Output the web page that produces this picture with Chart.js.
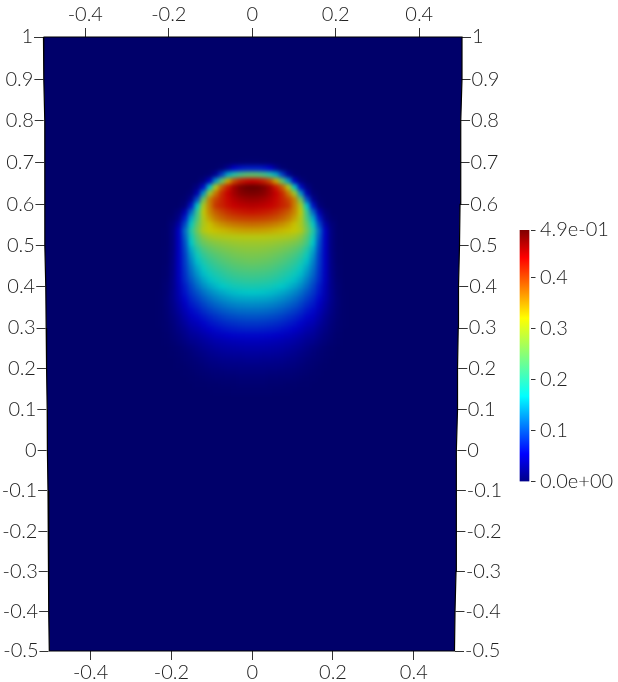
<!DOCTYPE html>
<html>
<head>
<meta charset="utf-8">
<style>
  html, body { margin: 0; background: #fff; }
  #wrap { position: relative; width: 618px; height: 682px; overflow: hidden; }
  #campo { position: absolute; left: 0; top: 0; }
  #barra { position: absolute; left: 500px; top: 200px; }
</style>
<script src="https://cdn.jsdelivr.net/npm/chart.js@4"></script>
</head>
<body>
<div id="wrap">
  <canvas id="campo" width="618" height="682"></canvas>
  <canvas id="barra" width="118" height="300"></canvas>
</div>
<script>
const xTicks = [-0.4, -0.2, 0, 0.2, 0.4];
const yTicks = [1, 0.9, 0.8, 0.7, 0.6, 0.5, 0.4, 0.3, 0.2, 0.1, 0, -0.1, -0.2, -0.3, -0.4, -0.5];
const colorTicks = [0, 0.1, 0.2, 0.3, 0.4, 0.494];
const colorLabels = ["0.0e+00", "0.1", "0.2", "0.3", "0.4", "4.9e-01"];

// domain outline, the edges wobble a bit in the picture
const frameY = yTicks;
const frameLeft = [-.5166, -.5158, -.5134, -.5139, -.5129, -.5129, -.5109, -.5099, -.5089, -.5074, -.5069, -.5054, -.505, -.503, -.503, -.5022];
const frameRight = [.5193, .5193, .5168, .5156, .5144, .5131, .5106, .5099, .5082, .5082, .5057, .5057, .5045, .5045, .502, .5007];

// field samples, half of the bubble (|x|), values in thousandths
const fieldX = [0, .015, .03, .045, .06, .075, .09, .105, .12, .135, .15, .165, .18, .195, .21, .225, .24];
const fieldY = [.7, .685, .67, .655, .64, .625, .61, .595, .58, .565, .55, .535, .52, .505, .49, .475, .46, .445, .43, .415, .4, .385, .37, .355, .34, .325, .31, .295, .28, .265, .25, .235, .22, .205, .19, .175, .16, .145];
const field = [
  [3, 3, 2, 1],
  [70, 70, 65, 55, 25, 5],
  [240, 235, 220, 195, 150, 90, 25, 3],
  [440, 435, 422, 395, 340, 240, 140, 50, 10],
  [492, 490, 480, 460, 425, 385, 305, 170, 60, 12],
  [482, 480, 474, 460, 440, 415, 370, 290, 140, 40, 5],
  [465, 463, 458, 450, 436, 420, 400, 365, 250, 100, 22, 3],
  [450, 448, 445, 440, 432, 420, 408, 365, 300, 170, 65, 8],
  [430, 428, 425, 420, 412, 400, 385, 360, 315, 210, 115, 40, 8],
  [405, 404, 402, 398, 392, 382, 368, 345, 305, 225, 150, 70, 18, 3],
  [375, 374, 372, 368, 362, 354, 342, 325, 300, 245, 175, 95, 35, 8],
  [345, 345, 343, 340, 335, 330, 325, 318, 305, 255, 195, 115, 50, 12, 1],
  [308, 308, 307, 306, 304, 302, 298, 290, 272, 235, 180, 108, 50, 13, 1],
  [288, 288, 287, 285, 281, 276, 270, 262, 248, 220, 168, 100, 50, 13, 1],
  [274, 274, 272, 269, 264, 258, 250, 240, 225, 195, 152, 95, 50, 13, 2],
  [262, 261, 259, 255, 249, 242, 233, 222, 205, 178, 140, 90, 50, 14, 2],
  [250, 249, 246, 242, 236, 228, 218, 206, 188, 163, 130, 88, 50, 15, 2],
  [235, 234, 232, 228, 221, 213, 203, 191, 174, 150, 121, 85, 49, 16, 3],
  [220, 219, 217, 213, 207, 198, 189, 177, 161, 139, 113, 82, 48, 17, 3],
  [205, 204, 202, 198, 192, 184, 175, 163, 148, 127, 104, 78, 47, 18, 4],
  [187, 186, 184, 181, 175, 168, 159, 148, 134, 115, 94, 70, 43, 18, 5],
  [168, 167, 165, 162, 157, 150, 142, 131, 118, 101, 85, 65, 41, 19, 6, 1],
  [150, 149, 148, 145, 140, 134, 126, 116, 104, 89, 76, 58, 38, 19, 7, 1],
  [133, 132, 131, 128, 124, 118, 111, 102, 91, 78, 67, 50, 33, 17, 7, 1],
  [116, 116, 115, 112, 108, 103, 96, 88, 79, 67, 58, 43, 28, 15, 6, 1],
  [100, 100, 99, 96, 93, 88, 82, 75, 67, 57, 49, 36, 23, 12, 5, 1],
  [85, 85, 84, 82, 79, 75, 70, 64, 56, 47, 41, 29, 19, 10, 4, 1],
  [72, 72, 71, 69, 67, 63, 59, 53, 46, 38, 33, 23, 15, 8, 3],
  [58, 58, 57, 56, 54, 51, 47, 42, 36, 30, 26, 18, 11, 6, 2],
  [46, 46, 45, 44, 42, 40, 37, 33, 28, 23, 19, 13, 8, 4, 1],
  [37, 37, 36, 35, 34, 32, 29, 26, 22, 17, 12, 8, 4, 2],
  [29, 29, 28, 28, 27, 25, 23, 20, 16, 12, 9, 5, 3, 1],
  [22, 22, 21, 21, 20, 19, 17, 15, 12, 9, 6, 4, 2],
  [16, 16, 16, 15, 15, 14, 12, 11, 8, 6, 4, 2, 1],
  [11, 11, 11, 10, 10, 9, 8, 7, 5, 4, 2, 1],
  [7, 7, 7, 6, 6, 5, 5, 4, 3, 2, 1],
  [4, 4, 4, 3, 3, 3, 2, 2, 1, 1],
  [2, 2, 2, 2, 1, 1, 1]
];

const vmax = 0.494;
const shade = 0.78; // the lit surface is darker than the colour bar
const navy = "#00006a";
const jetStops = [
  [0, [0, 0, 136]],
  [0.11, [0, 0, 255]],
  [0.34, [0, 255, 255]],
  [0.65, [255, 255, 0]],
  [0.89, [255, 0, 0]],
  [1, [128, 0, 0]]
];

function jet(t, k = 1) {
  t = Math.min(1, Math.max(0, t));
  for (let i = 1; i < jetStops.length; i++) {
    const [t1, c1] = jetStops[i];
    if (t <= t1) {
      const [t0, c0] = jetStops[i - 1];
      const f = (t - t0) / (t1 - t0);
      return `rgb(${c0.map((c, j) => Math.round((c + (c1[j] - c) * f) * k)).join(",")})`;
    }
  }
  return "rgb(128,0,0)";
}

const font = { family: "Lato", size: 20, weight: "300" };
const ink = "#222";

// the view is slightly tilted: y spacing shrinks downwards and the side axes lean in
class TiltedY extends Chart.LinearScale {
  static id = "tiltedY";
  static defaults = Chart.LinearScale.defaults;
  getPixelForValue(v) {
    return super.getPixelForValue(v) + 8 * (1 - v) * (v + 0.5);
  }
  lean(v) {
    return (this.position === "left" ? 5.5 : -7) * (1 - v) / 1.5;
  }
  _computeGridLineItems(area) {
    const items = super._computeGridLineItems(area);
    items.forEach((it, i) => {
      const d = this.lean(this.ticks[i].value);
      it.tx1 += d;
      it.tx2 += d;
    });
    return items;
  }
  _computeLabelItems(area) {
    const items = super._computeLabelItems(area);
    items.forEach((it, i) => {
      it.options.translation[0] += this.lean(this.ticks[i].value);
    });
    return items;
  }
}
Chart.register(TiltedY);

const cells = [];
fieldY.forEach((y, r) => {
  fieldX.forEach((x, c) => {
    const v = (field[r][c] || 0) / 1000;
    if (v <= 0) return;
    cells.push({ x: x, y: y, v: v });
    if (x > 0) cells.push({ x: -x, y: y, v: v });
  });
});

const outline = [];
frameY.forEach((y, i) => outline.push({ x: frameLeft[i], y: y }));
for (let i = frameY.length - 1; i >= 0; i--) outline.push({ x: frameRight[i], y: frameY[i] });
outline.push({ x: frameLeft[0], y: frameY[0] });

// melts the cell squares into a smooth field
const smooth = {
  id: "smooth",
  afterDatasetDraw(chart, args) {
    if (args.index !== 1) return;
    const ctx = chart.ctx;
    const sx = chart.scales.xField, sy = chart.scales.y;
    const l = sx.getPixelForValue(-0.3), r = sx.getPixelForValue(0.3);
    const t = sy.getPixelForValue(0.72), b = sy.getPixelForValue(0.1);
    ctx.save();
    ctx.beginPath();
    ctx.rect(l, t, r - l, b - t);
    ctx.clip();
    ctx.filter = "blur(2.2px)";
    ctx.drawImage(chart.canvas, 0, 0);
    ctx.restore();
  }
};

function sideAxis(position, width) {
  return {
    type: "tiltedY",
    position: position,
    min: -0.5,
    max: 1,
    afterBuildTicks: s => { s.ticks = yTicks.map(v => ({ value: v })); },
    afterFit: s => { s.width = width; },
    border: { display: false },
    grid: { drawOnChartArea: false, tickLength: 9, tickColor: "#333" },
    ticks: { font: font, color: ink, padding: 1, autoSkip: false, maxRotation: 0, callback: v => String(v) }
  };
}

function flatAxis(position, min, max, height) {
  return {
    type: "linear",
    position: position,
    min: min,
    max: max,
    afterBuildTicks: s => { s.ticks = xTicks.map(v => ({ value: v })); },
    afterFit: s => { s.height = height; },
    border: { display: false },
    grid: { drawOnChartArea: false, tickLength: 9, tickColor: "#333" },
    ticks: { font: font, color: ink, padding: 1, autoSkip: false, maxRotation: 0, callback: v => String(v) }
  };
}

new Chart(document.getElementById("campo"), {
  type: "scatter",
  data: {
    datasets: [
      {
        data: outline,
        showLine: true,
        fill: "shape",
        order: 2,
        clip: false,
        xAxisID: "x",
        yAxisID: "y",
        backgroundColor: navy,
        borderColor: "#000",
        borderWidth: 1.2,
        pointRadius: 0
      },
      {
        data: cells,
        order: 1,
        xAxisID: "xField",
        yAxisID: "y",
        pointStyle: "rect",
        pointRadius: 5.2,
        pointBorderWidth: 0,
        pointBackgroundColor: c => jet(c.raw.v / vmax, shade)
      }
    ]
  },
  options: {
    responsive: false,
    animation: false,
    events: [],
    layout: { padding: 0 },
    plugins: { legend: { display: false }, tooltip: { enabled: false } },
    scales: {
      x: flatAxis("bottom", -0.5178, 0.5193, 31),
      xTop: flatAxis("top", -0.5013, 0.5025, 37),
      xField: { type: "linear", display: false, min: -0.5098, max: 0.5122 },
      y: sideAxis("left", 43),
      y2: sideAxis("right", 156)
    }
  },
  plugins: [smooth]
});

new Chart(document.getElementById("barra"), {
  type: "bar",
  data: {
    labels: ["valor"],
    datasets: [{
      data: [[0, vmax]],
      barThickness: 9,
      backgroundColor: c => {
        const area = c.chart.chartArea;
        if (!area) return navy;
        const g = c.chart.ctx.createLinearGradient(0, area.bottom, 0, area.top);
        jetStops.forEach(([t]) => g.addColorStop(t, jet(t)));
        return g;
      }
    }]
  },
  options: {
    responsive: false,
    animation: false,
    events: [],
    layout: { padding: { left: 18.5, top: 30, bottom: 18.3 } },
    plugins: { legend: { display: false }, tooltip: { enabled: false } },
    scales: {
      x: { display: false },
      y: {
        position: "right",
        min: 0,
        max: vmax,
        afterBuildTicks: s => { s.ticks = colorTicks.map(v => ({ value: v })); },
        afterFit: s => { s.width = 87.5; },
        border: { display: false },
        grid: { drawOnChartArea: false, tickLength: 5, tickColor: "#333" },
        ticks: {
          font: font,
          color: ink,
          padding: 4.5,
          autoSkip: false,
          callback: v => colorLabels[colorTicks.indexOf(v)]
        }
      }
    }
  }
});
</script>
</body>
</html>
